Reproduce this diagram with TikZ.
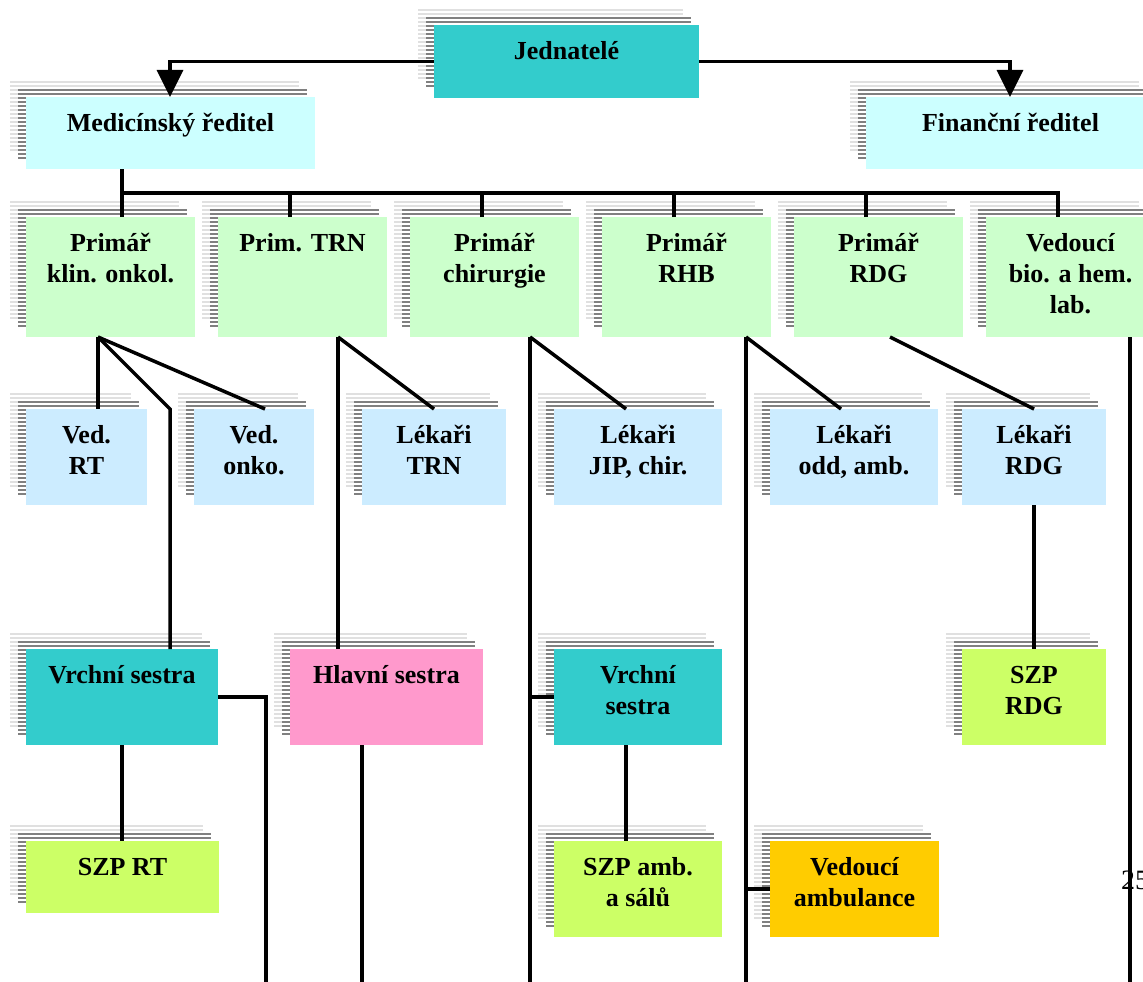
\documentclass[tikz,border=0pt]{standalone}
\usepackage{fontspec}
\setmainfont{Liberation Serif}
\usetikzlibrary{arrows.meta}

\definecolor{boxteal}{HTML}{33CCCC}
\definecolor{boxcyan}{HTML}{CCFFFF}
\definecolor{boxgreen}{HTML}{CCFFCC}
\definecolor{boxblue}{HTML}{CCECFF}
\definecolor{boxpink}{HTML}{FF99CC}
\definecolor{boxlime}{HTML}{CCFF66}
\definecolor{boxgold}{HTML}{FFCC00}
\definecolor{shadowdark}{HTML}{808080}
\definecolor{shadowlight}{HTML}{E0E0E0}

% one striped shadow layer: corners (#1,#2)-(#3,#4), stripe colour #5
\newcommand\stripes[5]{%
  \pgfmathsetmacro\sxa{#1}\pgfmathsetmacro\sya{#2}%
  \pgfmathsetmacro\sxb{#3}\pgfmathsetmacro\syb{#4}%
  \pgfmathtruncatemacro\nstr{(\syb-\sya)/4}%
  \begin{scope}
    \clip (\sxa,\sya) rectangle (\sxb,\syb);
    \fill[white] (\sxa,\sya) rectangle (\sxb,\syb);
    \foreach \k in {0,...,\nstr}
      \fill[#5] (\sxa,{\sya+\k*4}) rectangle (\sxb,{\sya+\k*4+2.4});
  \end{scope}}

% box with two shadow layers: name, x1, y1, x2, y2, fill, label
\newcommand\orgbox[7]{%
  \stripes{#2-16}{#3-16}{#4-16}{#5-18}{shadowlight}
  \stripes{#2-8}{#3-8}{#4-8}{#5-10}{shadowdark}
  \node[orgnode, fill=#6, minimum width={#4-#2}, minimum height={#5-#3},
        anchor=north west] (#1) at (#2,#3) {};
  \node[lbl, anchor=north] (#1-t) at ([yshift=-9.5pt]#1.north)
        {\rule{0pt}{25pt}#7};}

\begin{document}
\begin{tikzpicture}[x=1pt,y=-1pt,
  orgnode/.style={rectangle, draw=none, inner sep=0pt, outer sep=0pt},
  lbl/.style={inner sep=0pt, align=center,
              font=\bfseries\fontsize{26pt}{31pt}\selectfont},
  link/.style={line width=3.5pt, draw=black},
  bigtip/.style={-{Triangle[width=26pt,length=27pt]}}]

\useasboundingbox (0,0) rectangle (1143,982);
\clip (0,0) rectangle (1143,982);

% top level
\orgbox{jed}{434}{25}{699}{98}{boxteal}{Jednatelé}
\orgbox{med}{26}{97}{315}{169}{boxcyan}{Medicínský ředitel}
\orgbox{fin}{866}{97}{1155}{169}{boxcyan}{Finanční ředitel}

% heads of departments
\orgbox{p1}{26}{217}{195}{337}{boxgreen}{Primář\\klin. onkol.}
\orgbox{p2}{218}{217}{387}{337}{boxgreen}{Prim. TRN}
\orgbox{p3}{410}{217}{579}{337}{boxgreen}{Primář\\chirurgie}
\orgbox{p4}{602}{217}{771}{337}{boxgreen}{Primář\\RHB}
\orgbox{p5}{794}{217}{963}{337}{boxgreen}{Primář\\RDG}
\orgbox{p6}{986}{217}{1155}{337}{boxgreen}{Vedoucí\\bio. a hem.\\lab.}

% physicians
\orgbox{r1}{26}{409}{147}{505}{boxblue}{Ved.\\RT}
\orgbox{r2}{194}{409}{314}{505}{boxblue}{Ved.\\onko.}
\orgbox{r3}{362}{409}{506}{505}{boxblue}{Lékaři\\TRN}
\orgbox{r4}{554}{409}{722}{505}{boxblue}{Lékaři\\JIP, chir.}
\orgbox{r5}{770}{409}{938}{505}{boxblue}{Lékaři\\odd, amb.}
\orgbox{r6}{962}{409}{1106}{505}{boxblue}{Lékaři\\RDG}

% nursing
\orgbox{s1}{26}{649}{218}{745}{boxteal}{Vrchní sestra}
\orgbox{s2}{290}{649}{483}{745}{boxpink}{Hlavní sestra}
\orgbox{s3}{554}{649}{722}{745}{boxteal}{Vrchní\\sestra}
\orgbox{s4}{962}{649}{1106}{745}{boxlime}{SZP\\RDG}

\orgbox{t1}{26}{841}{219}{913}{boxlime}{SZP RT}
\orgbox{t2}{554}{841}{722}{937}{boxlime}{SZP amb.\\a sálů}
\orgbox{t3}{770}{841}{939}{937}{boxgold}{Vedoucí\\ambulance}

% page number
\node[inner sep=0pt, anchor=base west, font=\fontsize{28pt}{28pt}\selectfont]
  (pg) at (1121,889) {25};

% connectors
\draw[link,bigtip] (jed.west) -| ([xshift=144pt]med.north west);
\draw[link,bigtip] (jed.east) -| ([xshift=144pt]fin.north west);

\draw[link] ([xshift=96pt]med.south west) -- ([xshift=96pt]p1.north west);
\coordinate (busL) at ([xshift=96pt,yshift=24pt]p1.north west);
\draw[link] (busL) -| ([xshift=72pt]p6.north west);
\foreach \p in {p2,p3,p4,p5}
  \draw[link] ([xshift=72pt]\p.north west) -- ++(0pt,24pt);

\draw[link] ([xshift=72pt]p1.south west) -- ([xshift=72pt]r1.north west);
\draw[link] ([xshift=72pt]p1.south west) -- ([xshift=71pt]r2.north west);
\draw[link] ([xshift=72pt]p1.south west) -- ([xshift=144pt,yshift=240pt]s1.north west)
            -- ([xshift=144pt]s1.north west);

\draw[link] ([xshift=120pt]p2.south west) -- ([xshift=48pt]s2.north west);
\draw[link] ([xshift=120pt]p2.south west) -- ([xshift=72pt]r3.north west);

\draw[link] ([xshift=120pt]p3.south west) -- ++(0pt,-660pt);
\draw[link] ([xshift=120pt]p3.south west) -- ([xshift=72pt]r4.north west);
\draw[link] (s3.west) -- ++(-24pt,0pt);

\draw[link] ([xshift=144pt]p4.south west) -- ++(0pt,-660pt);
\draw[link] ([xshift=144pt]p4.south west) -- ([xshift=71pt]r5.north west);
\draw[link] (t3.west) -- ++(-24pt,0pt);

\draw[link] ([xshift=96pt]p5.south west) -- ([xshift=72pt]r6.north west);
\draw[link] (r6.south) -- (s4.north);

\draw[link] ([xshift=144pt]p6.south west) -- ++(0pt,-660pt);

\draw[link] (s1.east) -- ++(48pt,0pt) -- ++(0pt,-300pt);
\draw[link] (s1.south) -- (s1.south |- t1.north);
\draw[link] ([xshift=72pt]s2.south west) -- ++(0pt,-250pt);
\draw[link] ([xshift=72pt]s3.south west) -- ([xshift=72pt]t2.north west);
\end{tikzpicture}
\end{document}
